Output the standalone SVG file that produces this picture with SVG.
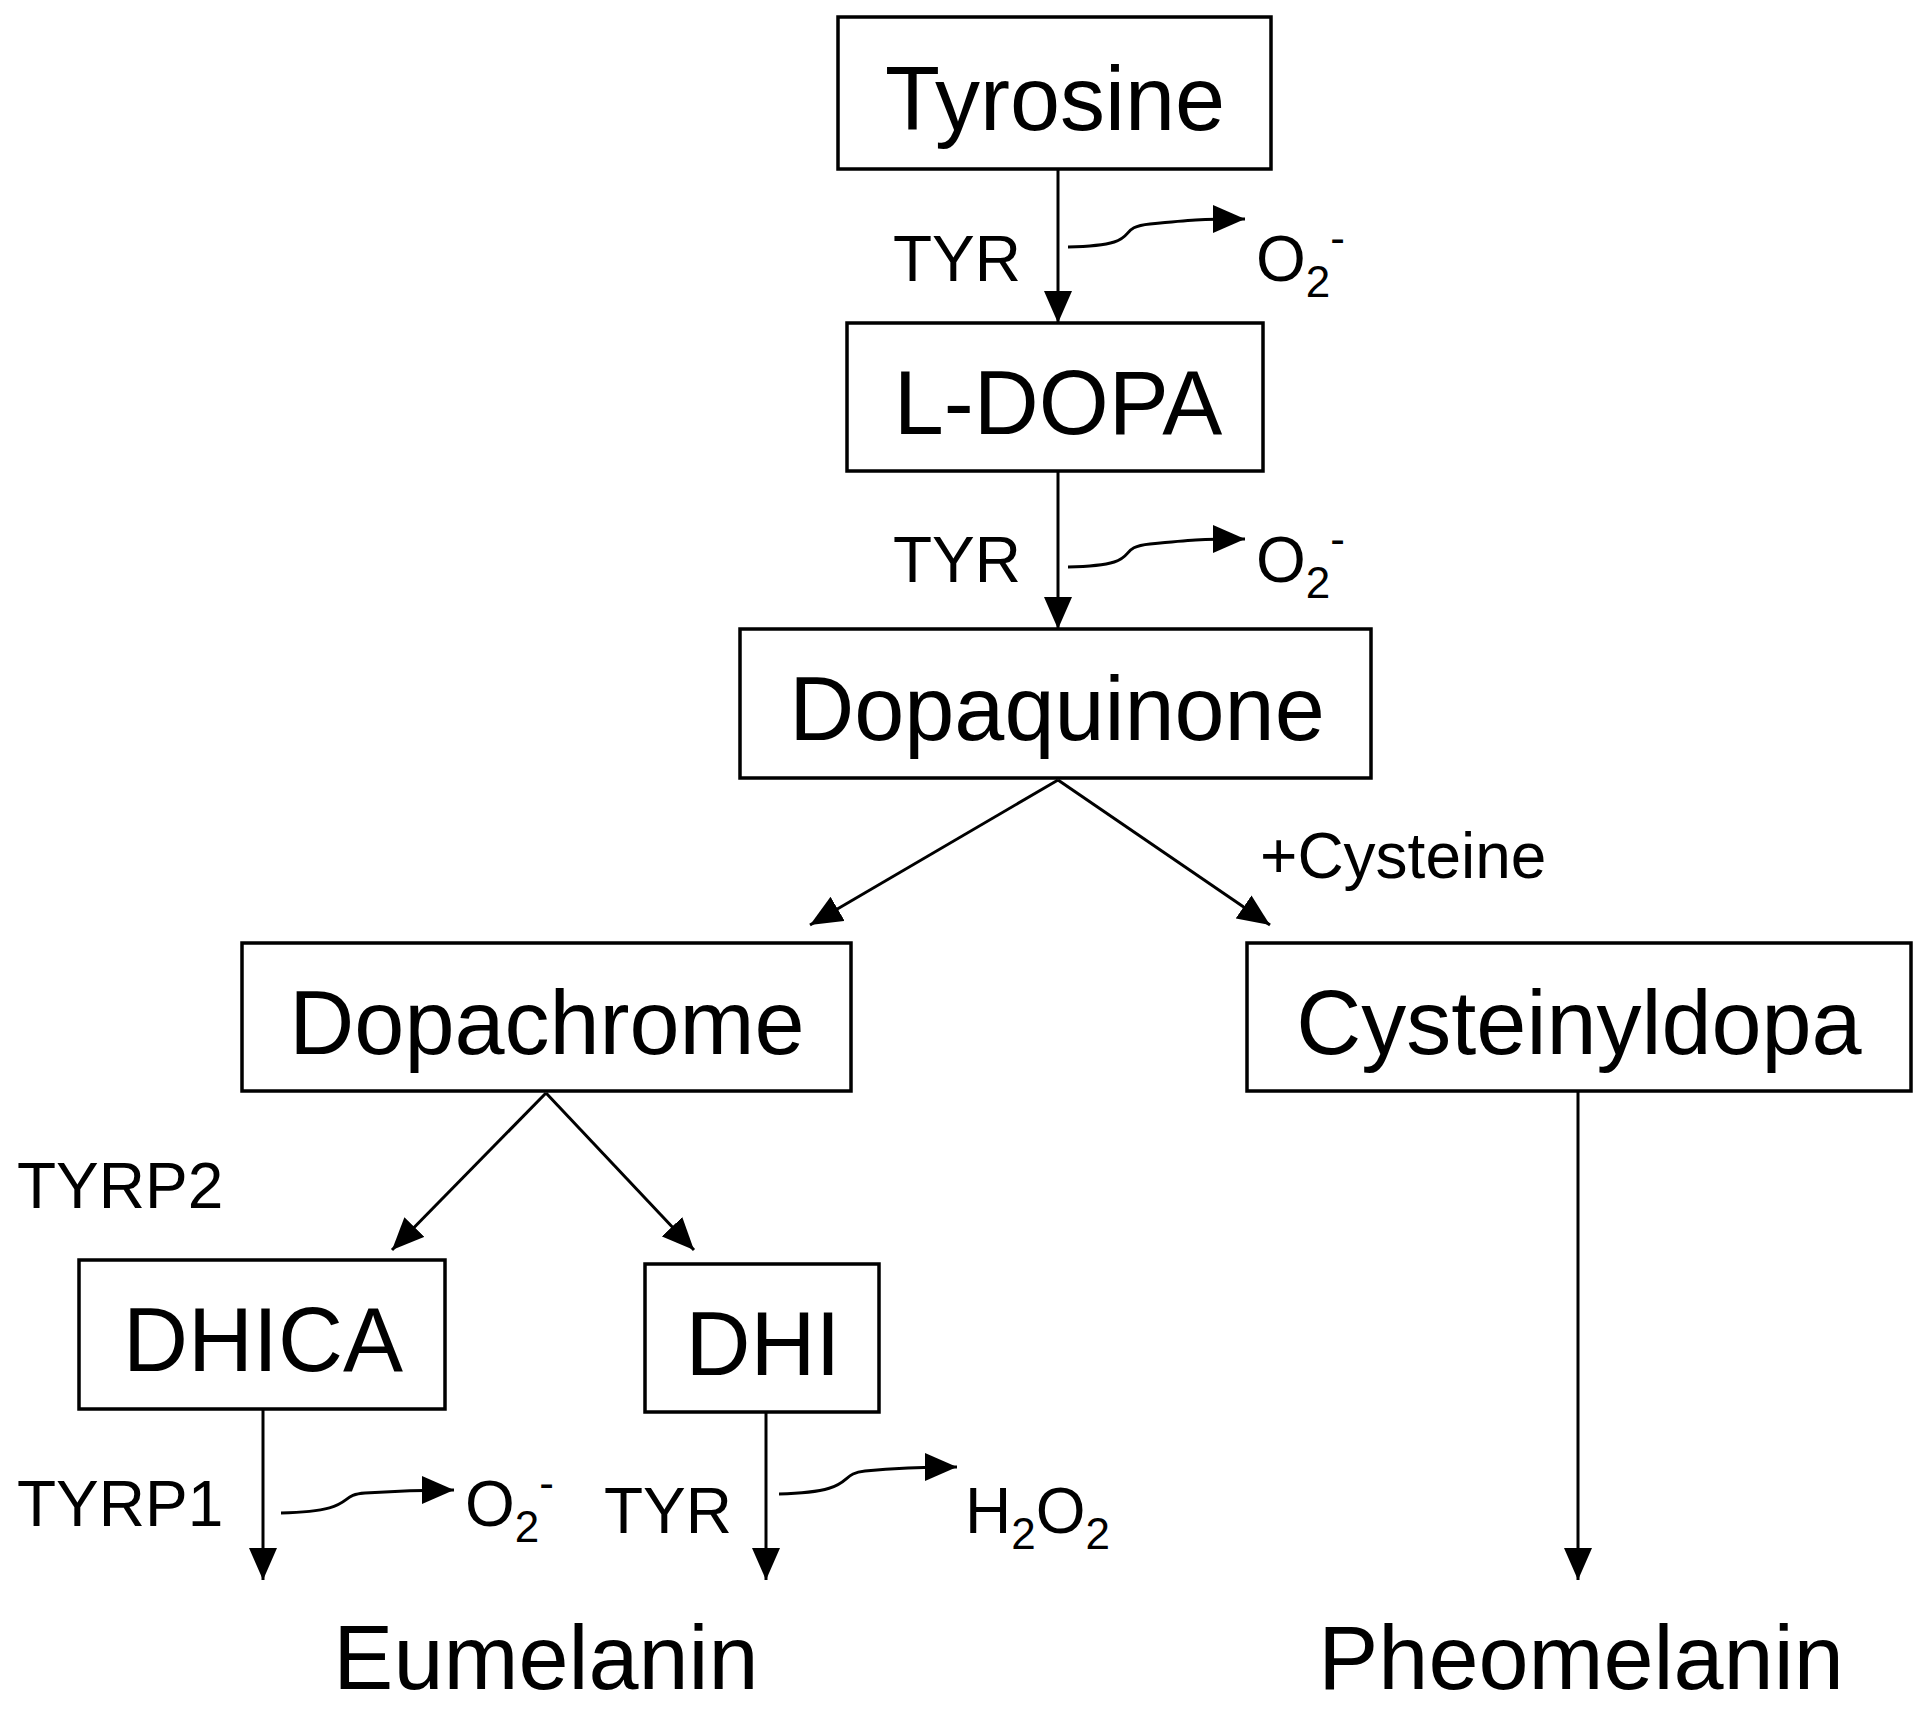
<svg xmlns="http://www.w3.org/2000/svg" width="1923" height="1709" viewBox="0 0 1923 1709">
<style>
.b{fill:#fff;stroke:#000;stroke-width:3.5}
.L{font-family:"Liberation Sans",Arial,sans-serif;font-size:90px;text-anchor:middle}
.s{font-family:"Liberation Sans",Arial,sans-serif;font-size:64px}
.c line,.c path{stroke:#000;stroke-width:3;fill:none}
</style>
<defs><marker id="a" markerUnits="userSpaceOnUse" markerWidth="34" markerHeight="28" refX="32" refY="14" orient="auto"><path d="M0,0L32,14L0,28z" fill="#000"/></marker></defs>
<rect width="1923" height="1709" fill="#fff"/>
<g class="c">
<line x1="1058" y1="169" x2="1058" y2="323" marker-end="url(#a)"/>
<path d="M1068,247C1150,245 1110,228 1150,224 S1200,219 1245,219" marker-end="url(#a)"/>
<line x1="1058" y1="471" x2="1058" y2="629" marker-end="url(#a)"/>
<path d="M1068,567C1150,565 1110,548 1150,544 S1200,539 1245,539" marker-end="url(#a)"/>
<line x1="1058" y1="780" x2="810" y2="925" marker-end="url(#a)"/>
<line x1="1058" y1="780" x2="1270" y2="925" marker-end="url(#a)"/>
<line x1="546" y1="1093" x2="392" y2="1250" marker-end="url(#a)"/>
<line x1="546" y1="1093" x2="694" y2="1250" marker-end="url(#a)"/>
<line x1="263" y1="1409" x2="263" y2="1580" marker-end="url(#a)"/>
<path d="M281,1513C360,1511 335,1495 365,1493 S420,1490 454,1490" marker-end="url(#a)"/>
<line x1="766" y1="1412" x2="766" y2="1580" marker-end="url(#a)"/>
<path d="M779,1494C860,1492 835,1474 865,1471 S920,1467 957,1467" marker-end="url(#a)"/>
<line x1="1578" y1="1091" x2="1578" y2="1580" marker-end="url(#a)"/>
</g>
<g id="tyrosine"><rect class="b" x="838" y="17" width="433" height="152"/><text class="L" x="1055" y="130">Tyrosine</text></g>
<g id="ldopa"><rect class="b" x="847" y="323" width="416" height="148"/><text class="L" x="1058" y="434">L-DOPA</text></g>
<g id="dopaquinone"><rect class="b" x="740" y="629" width="631" height="149"/><text class="L" x="1057" y="740">Dopaquinone</text></g>
<g id="dopachrome"><rect class="b" x="242" y="943" width="609" height="148"/><text class="L" x="547" y="1054">Dopachrome</text></g>
<g id="cysteinyldopa"><rect class="b" x="1247" y="943" width="664" height="148"/><text class="L" x="1579" y="1054">Cysteinyldopa</text></g>
<g id="dhica"><rect class="b" x="79" y="1260" width="366" height="149"/><text class="L" x="263" y="1371">DHICA</text></g>
<g id="dhi"><rect class="b" x="645" y="1264" width="234" height="148"/><text class="L" x="763" y="1375">DHI</text></g>
<g id="eumelanin"><text class="L" x="546" y="1689">Eumelanin</text></g>
<g id="pheomelanin"><text class="L" x="1581" y="1689">Pheomelanin</text></g>
<g id="labels">
<text class="s" x="893" y="281">TYR</text>
<text class="s" x="1256" y="281">O<tspan font-size="44" dy="16">2</tspan><tspan font-size="44" dy="-44">-</tspan></text>
<text class="s" x="893" y="582">TYR</text>
<text class="s" x="1256" y="582">O<tspan font-size="44" dy="16">2</tspan><tspan font-size="44" dy="-44">-</tspan></text>
<text class="s" x="1260" y="878">+Cysteine</text>
<text class="s" x="17" y="1208">TYRP2</text>
<text class="s" x="17" y="1526">TYRP1</text>
<text class="s" x="465" y="1526">O<tspan font-size="44" dy="16">2</tspan><tspan font-size="44" dy="-44">-</tspan></text>
<text class="s" x="604" y="1533">TYR</text>
<text class="s" x="965" y="1533">H<tspan font-size="44" dy="16">2</tspan><tspan dy="-16">O</tspan><tspan font-size="44" dy="16">2</tspan></text>
</g>
</svg>
